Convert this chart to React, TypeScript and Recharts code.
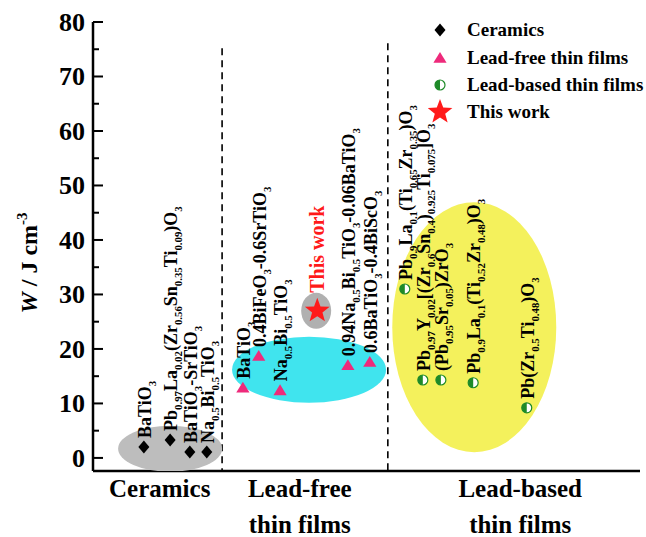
import React from 'react';
import { ScatterChart, Scatter, XAxis, YAxis, ReferenceLine, Legend } from 'recharts';

// x positions are in arbitrary category units (0-100), W in J/cm3
const ceramicNames = [
  'BaTiO_{3}',
  'Pb_{0.97}La_{0.02}(Zr_{0.56}Sn_{0.35}Ti_{0.09})O_{3}',
  'BaTiO_{3}-SrTiO_{3}',
  'Na_{0.5}Bi_{0.5}TiO_{3}',
];
const ceramicPos = [9.3, 14.1, 17.7, 20.8];
const ceramicW = [2.0, 3.3, 1.1, 1.1];

const leadFreeNames = [
  'BaTiO_{3}',
  '0.4BiFeO_{3}-0.6SrTiO_{3}',
  'Na_{0.5}Bi_{0.5}TiO_{3}',
  '0.94Na_{0.5}Bi_{0.5}TiO_{3}-0.06BaTiO_{3}',
  '0.6BaTiO_{3}-0.4BiScO_{3}',
];
const leadFreePos = [27.4, 30.3, 34.2, 46.6, 50.6];
const leadFreeW = [12.9, 18.7, 12.4, 17.0, 17.6];

const leadBasedNames = [
  'Pb_{0.9}La_{0.1}(Ti_{0.65}Zr_{0.35})O_{3}',
  'Pb_{0.97}Y_{0.02}[(Zr_{0.6}Sn_{0.4})_{0.925}Ti_{0.075}]O_{3}',
  '(Pb_{0.95}Sr_{0.05})ZrO_{3}',
  'Pb_{0.9}La_{0.1}(Ti_{0.52}Zr_{0.48})O_{3}',
  'Pb(Zr_{0.5}Ti_{0.48})O_{3}',
];
const leadBasedPos = [57.0, 60.3, 63.6, 69.5, 79.3];
const leadBasedW = [31.0, 14.3, 14.3, 13.8, 9.2];

const thisWorkNames = ['This work'];
const thisWorkPos = [41.0];
const thisWorkW = [27.0];

// shaded group backgrounds (centres)
const haloNames = ['ceramics', 'leadFree', 'thisWork', 'leadBased'];
const haloPos = [14.1, 39.5, 40.8, 69.7];
const haloW = [1.7, 16.2, 27.0, 24.0];

const categoryPos = [12.2, 37.8, 78.1];
const categoryLabels = [['Ceramics'], ['Lead-free', 'thin films'], ['Lead-based', 'thin films']];
const dividerPos = [23.6, 53.9];
const dividerTop = [75.2, 76.1];
const yTicks = [0, 5, 10, 15, 20, 25, 30, 35, 40, 45, 50, 55, 60, 65, 70, 75, 80];
const legendOrder = ['Ceramics', 'Lead-free thin films', 'Lead-based thin films', 'This work'];

const zip = (names: string[], xs: number[], ws: number[]) =>
  names.map((name, i) => ({ name, x: xs[i], w: ws[i] }));

const ceramics = zip(ceramicNames, ceramicPos, ceramicW);
const leadFree = zip(leadFreeNames, leadFreePos, leadFreeW);
const leadBased = zip(leadBasedNames, leadBasedPos, leadBasedW);
const thisWork = zip(thisWorkNames, thisWorkPos, thisWorkW);
const halos = zip(haloNames, haloPos, haloW);

const FONT = "'Liberation Serif', 'DejaVu Serif', 'Times New Roman', serif";
const serif: React.CSSProperties = { fontFamily: FONT, fontWeight: 'bold' };
const PINK = '#ee2a7b';
const GREEN = '#1e8a28';
const RED = '#ff1a1a';

const haloStyle: Record<string, { rx: number; ry: number; fill: string }> = {
  ceramics: { rx: 52, ry: 23, fill: '#bdbdbd' },
  leadFree: { rx: 77, ry: 33, fill: '#40e4ee' },
  thisWork: { rx: 15, ry: 18, fill: '#b0b0b0' },
  leadBased: { rx: 82, ry: 125, fill: '#f4f15c' },
};

const parse = (s: string) => {
  const out: { t: string; k: string }[] = [];
  const re = /([_^])\{([^}]*)\}|([^_^]+)/g;
  let m: RegExpExecArray | null;
  while ((m = re.exec(s))) {
    if (m[3]) out.push({ t: m[3], k: 'n' });
    else out.push({ t: m[2], k: m[1] === '_' ? 'sub' : 'sup' });
  }
  return out;
};

const Formula = ({ x, y, text, size, fill = '#000' }: any) => {
  let shift = 0;
  return (
    <text x={x} y={y} transform={`rotate(-90 ${x} ${y})`} style={{ ...serif, fontSize: size }} fill={fill} textAnchor="start">
      {parse(text).map((p, i) => {
        const target = p.k === 'sub' ? size * 0.28 : p.k === 'sup' ? -size * 0.42 : 0;
        const dy = target - shift;
        shift = target;
        return (
          <tspan key={i} dy={dy} style={{ fontSize: p.k === 'n' ? size : size * 0.6 }}>
            {p.t}
          </tspan>
        );
      })}
    </text>
  );
};

const diamond = (cx: number, cy: number, s: number) => (
  <polygon points={`${cx},${cy - s} ${cx + s * 0.85},${cy} ${cx},${cy + s} ${cx - s * 0.85},${cy}`} fill="#000" />
);
const triangle = (cx: number, cy: number, s: number) => (
  <polygon points={`${cx},${cy - s} ${cx + s * 1.1},${cy + s * 0.8} ${cx - s * 1.1},${cy + s * 0.8}`} fill={PINK} />
);
const halfCircle = (cx: number, cy: number, r: number) => (
  <g>
    <circle cx={cx} cy={cy} r={r} fill="#fff" stroke={GREEN} strokeWidth={1.2} />
    <path d={`M${cx},${cy - r} A${r},${r} 0 0 0 ${cx},${cy + r} Z`} fill={GREEN} />
  </g>
);
const star = (cx: number, cy: number, R: number) => {
  const pts: string[] = [];
  for (let i = 0; i < 10; i++) {
    const r = i % 2 === 0 ? R : R * 0.42;
    const a = -Math.PI / 2 + (i * Math.PI) / 5;
    pts.push(`${cx + r * Math.cos(a)},${cy + r * Math.sin(a)}`);
  }
  return <polygon points={pts.join(' ')} fill={RED} />;
};

const labeled = (marker: (cx: number, cy: number) => React.ReactNode, size = 18, dyText = 9, fill = '#000', dxText = 7) =>
  (props: any) => {
    const { cx, cy, payload } = props;
    return (
      <g>
        {marker(cx, cy)}
        <Formula x={cx + dxText} y={cy - dyText} text={payload.name} size={size} fill={fill} />
      </g>
    );
  };

const haloShape = (props: any) => {
  const { cx, cy, payload } = props;
  const st = haloStyle[payload.name];
  return <ellipse cx={cx} cy={cy} rx={st.rx} ry={st.ry} fill={st.fill} />;
};

const YTick = (props: any) => {
  const { x, y, payload } = props;
  const major = payload.value % 10 === 0;
  return (
    <g>
      <line x1={x} x2={x + (major ? 10 : 6)} y1={y} y2={y} stroke="#000" strokeWidth={2} />
      {major && (
        <text x={x - 8} y={y} dy={9} textAnchor="end" style={{ ...serif, fontSize: 26 }} fill="#000">
          {payload.value}
        </text>
      )}
    </g>
  );
};

const XTick = (props: any) => {
  const { x, y, payload } = props;
  const lines = categoryLabels[categoryPos.indexOf(payload.value)] || [];
  return (
    <g>
      {lines.map((l, i) => (
        <text key={i} x={x} y={y + 26 + i * 36} textAnchor="middle" style={{ ...serif, fontSize: 25 }} fill="#000">
          {l}
        </text>
      ))}
    </g>
  );
};

const YLabel = () => (
  <text x={37} y={263} transform="rotate(-90 37 263)" textAnchor="middle" style={{ ...serif, fontSize: 24 }} fill="#000">
    <tspan style={{ fontStyle: 'italic' }}>W</tspan>
    <tspan> / J cm</tspan>
    <tspan dy={-10} style={{ fontSize: 15 }}>-3</tspan>
  </text>
);

const legendMarkers: Record<string, (cx: number, cy: number) => React.ReactNode> = {
  Ceramics: (cx, cy) => diamond(cx, cy, 6.5),
  'Lead-free thin films': (cx, cy) => triangle(cx, cy, 6),
  'Lead-based thin films': (cx, cy) => halfCircle(cx, cy, 5),
  'This work': (cx, cy) => star(cx, cy, 13),
};

const LegendContent = (props: any) => {
  const names = (props.payload || []).map((p: any) => p.value);
  const items = legendOrder.filter((n) => names.includes(n));
  const rowY = [14, 42, 69, 96];
  return (
    <svg width={220} height={112} style={{ display: 'block' }}>
      {items.map((n, i) => (
        <g key={n}>
          {legendMarkers[n](12, rowY[i])}
          <text x={39} y={rowY[i] + 6} style={{ ...serif, fontSize: 19 }} fill="#000">
            {n}
          </text>
        </g>
      ))}
    </svg>
  );
};

export default function App() {
  return (
    <div style={{ position: 'absolute', left: 0, top: 0, background: '#fff' }}>
      <ScatterChart width={646} height={537} margin={{ top: 22, right: 6, left: 0, bottom: 6 }}>
        <XAxis
          type="number"
          dataKey="x"
          domain={[0, 100]}
          ticks={categoryPos}
          interval={0}
          tick={<XTick />}
          tickLine={false}
          tickSize={0}
          tickMargin={0}
          height={60}
          axisLine={{ stroke: '#000', strokeWidth: 2.5 }}
        />
        <XAxis
          xAxisId="top"
          orientation="top"
          type="number"
          domain={[0, 100]}
          height={0}
          tick={false}
          tickLine={false}
          axisLine={{ stroke: '#000', strokeWidth: 2.5 }}
        />
        <YAxis
          type="number"
          dataKey="w"
          domain={[-2.4, 80]}
          allowDataOverflow
          ticks={yTicks}
          interval={0}
          tick={<YTick />}
          tickLine={false}
          tickSize={0}
          tickMargin={0}
          width={93}
          axisLine={{ stroke: '#000', strokeWidth: 2.5 }}
          label={<YLabel />}
        />
        <YAxis
          yAxisId="right"
          orientation="right"
          type="number"
          domain={[-2.4, 80]}
          width={0}
          tick={false}
          tickLine={false}
          axisLine={{ stroke: '#000', strokeWidth: 1.5 }}
        />
        <Legend
          layout="vertical"
          align="center"
          verticalAlign="middle"
          content={<LegendContent />}
          wrapperStyle={{ left: 428, top: 16, width: 220 }}
        />
        <Scatter data={halos} shape={haloShape} legendType="none" isAnimationActive={false} />
        {dividerPos.map((x, i) => (
          <ReferenceLine
            key={x}
            segment={[{ x, y: dividerTop[i] }, { x, y: -2.4 }]}
            stroke="#000"
            strokeWidth={1.6}
            strokeDasharray="7 5"
          />
        ))}
        <Scatter name="Ceramics" data={ceramics} shape={labeled((cx, cy) => diamond(cx, cy, 6.5))} isAnimationActive={false} />
        <Scatter name="Lead-free thin films" data={leadFree} shape={labeled((cx, cy) => triangle(cx, cy, 6))} isAnimationActive={false} />
        <Scatter name="Lead-based thin films" data={leadBased} shape={labeled((cx, cy) => halfCircle(cx, cy, 5))} isAnimationActive={false} />
        <Scatter name="This work" data={thisWork} shape={labeled((cx, cy) => star(cx, cy, 13), 20, 18, RED, 7)} isAnimationActive={false} />
      </ScatterChart>
    </div>
  );
}
